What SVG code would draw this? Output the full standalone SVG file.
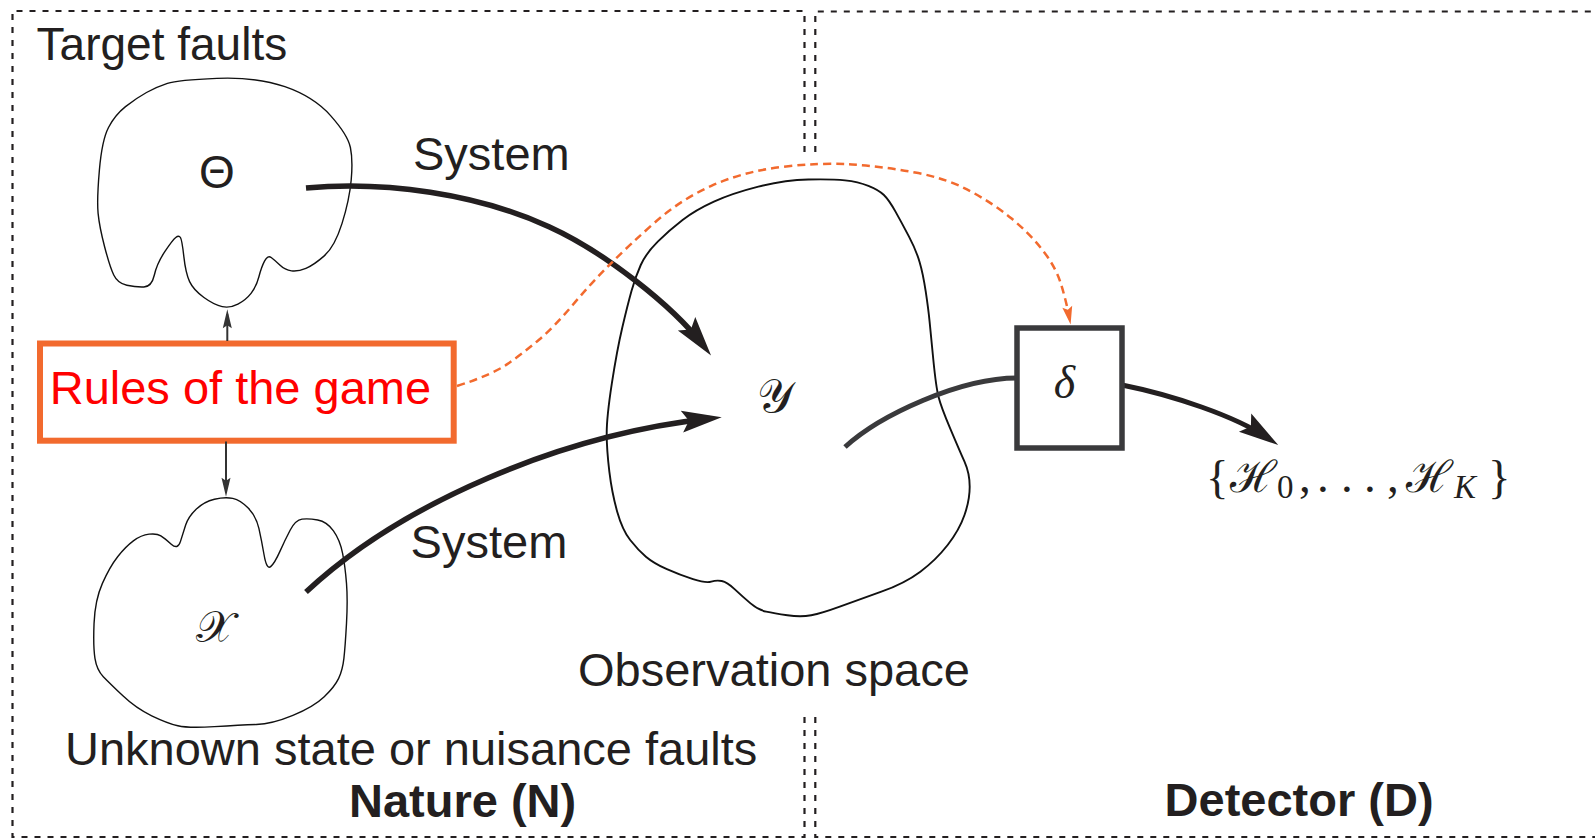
<svg xmlns="http://www.w3.org/2000/svg" width="1595" height="840" viewBox="0 0 1595 840">
<style>
.t{font-family:"Liberation Sans",Arial,sans-serif;font-size:47px;fill:#231f20}
.b{font-weight:bold}
.m{font-family:"Liberation Serif","DejaVu Serif",serif;fill:#231f20}
.blob{fill:none;stroke:#111;stroke-width:1.4;stroke-linejoin:round}
.region{fill:none;stroke:#231f20;stroke-width:2.2;stroke-dasharray:6 7}
.thick{fill:none;stroke:#231f20;stroke-width:5.5}
.thin{fill:none;stroke:#333;stroke-width:2}
</style>
<defs>
<marker id="ah" markerUnits="userSpaceOnUse" markerWidth="42" markerHeight="24" refX="28" refY="12" orient="auto" overflow="visible"><path d="M40 12 L0 1 L7 12 L0 23 Z" fill="#231f20"/></marker>
<marker id="sh" markerUnits="userSpaceOnUse" markerWidth="20" markerHeight="10" refX="14" refY="4.5" orient="auto" overflow="visible"><path d="M19 4.5 L0 0 L3 4.5 L0 9 Z" fill="#333"/></marker>
<marker id="oh" markerUnits="userSpaceOnUse" markerWidth="20" markerHeight="10" refX="12" refY="5" orient="auto" overflow="visible"><path d="M18 5 L0 0 L3 5 L0 10 Z" fill="#F26A2E"/></marker>
</defs>
<rect width="1595" height="840" fill="#fff"/>
<g id="nature-region">
<path class="region" d="M804.5 152 V11 H12.5 V837 H804.5 V717"/>
<text class="t b" x="349" y="817">Nature (N)</text>
</g>
<g id="detector-region">
<path class="region" d="M815.3 152 V11.5 H1600"/>
<path class="region" d="M815.3 717 V837 H1600"/>
<text class="t b" x="1164.6" y="816">Detector (D)</text>
</g>
<g id="target-faults">
<text class="t" x="36.6" y="60" style="font-size:46px">Target faults</text>
<path class="blob" d="M167.4 83.35 Q177.8 80 216.9 78.35 Q256 76.7 284.9 86.7 Q313.8 96.7 330.8 115.85 Q347.8 135 350.4 147.5 Q353 160 351.2 180 Q349.4 200 342.05 223.35 Q334.7 246.7 324.25 255.85 Q313.8 265 305.9 268.35 Q298 271.7 291.5 270.85 Q285 270 279.8 265 Q274.6 260 271.2 257.5 Q267.8 255 264.65 260.85 Q261.5 266.7 258.9 276.7 Q256.3 286.7 251.05 293.35 Q245.8 300 237.9 304.15 Q230 308.3 222.2 306.65 Q214.4 305 203.95 297.5 Q193.5 290 189.6 281.65 Q185.7 273.3 183.850 256.65 Q182 240 180.45 237.5 Q178.9 235 175.75 237.5 Q172.6 240 164.8 251.65 Q157 263.3 154.35 275 Q151.7 286.7 143.85 287 Q136 287.3 126.85 285.3 Q117.7 283.3 113.75 275 Q109.8 266.7 104.6 246.7 Q99.4 226.7 98.1 213.35 Q96.8 200 99.4 170 Q102 140 108.5 127.5 Q115 115 125.5 106.65 Q136 98.3 146.5 92.5 Q157 86.7 167.4 83.35 Z"/>
<text class="t" x="217" y="188" text-anchor="middle" style="font-size:46px">Θ</text>
</g>
<g id="unknown-state">
<path class="blob" d="M214.45 499.2 Q224.9 496.7 232.75 498.35 Q240.6 500 248.45 508.35 Q256.3 516.7 258.9 528.35 Q261.5 540 264.1 555 Q266.7 570 270.65 566.65 Q274.6 563.3 279.8 551.65 Q285 540 290.25 530 Q295.5 520 302.05 519.15 Q308.6 518.3 317.75 520 Q326.9 521.7 333.45 530.85 Q340 540 342.6 553.35 Q345.2 566.7 346.5 583.35 Q347.8 600 346.5 623.35 Q345.2 646.7 343.9 658.35 Q342.6 670 338.65 678.35 Q334.7 686.7 324.25 696.7 Q313.8 706.7 292.9 715.35 Q272 724 256.3 724.5 Q240.6 725 214.45 726.65 Q188.3 728.3 177.85 725.8 Q167.4 723.3 151.7 715.8 Q136 708.3 122.9 695.8 Q109.8 683.3 103.3 676.65 Q96.8 670 94.95 658.35 Q93.1 646.7 94.05 623.35 Q95 600 102.4 583.35 Q109.8 566.7 117.65 556.7 Q125.5 546.7 133.35 540.85 Q141.2 535 149.1 534.15 Q157 533.3 160.85 535.8 Q164.7 538.3 171.25 544.15 Q177.8 550 180.4 541.65 Q183 533.3 185.65 525 Q188.3 516.7 196.15 509.2 Q204 501.7 214.45 499.2 Z"/>
<text class="m" x="215" y="642" text-anchor="middle" style="font-size:44px">𝒳</text>
<text class="t" x="65" y="765">Unknown state or nuisance faults</text>
</g>
<g id="rules">
<rect x="40" y="343.5" width="413.7" height="97.2" fill="#fff" stroke="#F26A2E" stroke-width="6"/>
<text class="t" x="49.7" y="404" style="fill:#f00">Rules of the game</text>
</g>
<g id="observation">
<path class="blob" style="stroke-width:1.9" d="M631.55 290.85 Q635.5 276.7 640.75 265 Q646 253.3 657.75 241.65 Q669.5 230 682.55 220 Q695.6 210 713.9 201.65 Q732.2 193.3 758.35 186.65 Q784.5 180 808.25 179.5 Q832 179 845 180.35 Q858 181.7 868.4 185.85 Q878.8 190 883.9 195 Q889 200 895.5 211.65 Q902 223.3 909 236.65 Q916 250 919.5 261.65 Q923 273.3 925.75 291.65 Q928.5 310 929.6 321.65 Q930.7 333.3 933.35 360 Q936 386.7 938.5 396.7 Q941 406.7 950.15 428.35 Q959.3 450 964.5 461.65 Q969.7 473.3 969.7 486.65 Q969.7 500 964.5 515 Q959.3 530 947.65 545 Q936 560 920.35 571.65 Q904.7 583.3 881.35 591.65 Q858 600 839.8 606.65 Q821.6 613.3 811.2 615.3 Q800.8 617.3 787.4 615.3 Q774 613.3 766.2 611.65 Q758.4 610 750.55 603.35 Q742.7 596.7 734.85 589.35 Q727 582 721.75 581 Q716.5 580 711.25 581.65 Q706 583.3 693 579.15 Q680 575 666.9 569.15 Q653.8 563.3 645.9 556.65 Q638 550 630.2 540 Q622.4 530 617.2 511.65 Q612 493.3 609.35 471.65 Q606.7 450 606.7 433.35 Q606.7 416.7 611.85 383.35 Q617 350 622.3 327.5 Q627.6 305 631.55 290.85 Z"/>
<text class="m" x="775" y="412" text-anchor="middle" style="font-size:46px">𝒴</text>
<text class="t" x="578" y="686">Observation space</text>
</g>
<g id="connectors">
<path class="thick" marker-end="url(#ah)" d="M306 188 C386 181 476.2 193.6 549 226.7 C603.6 251.5 672 305 703.7 346"/>
<text class="t" x="413" y="170">System</text>
<path class="thick" marker-end="url(#ah)" d="M306 592 C400.9 503.6 560.7 434.8 709.8 418.6"/>
<text class="t" x="410.6" y="558">System</text>
<path class="thin" marker-end="url(#sh)" d="M227.3 341 V314.3"/>
<path class="thin" marker-end="url(#sh)" d="M226 441.5 V491.7"/>
<path fill="none" stroke="#F26A2E" stroke-width="2.5" stroke-dasharray="8 5" marker-end="url(#oh)" d="M457 386 Q491.6 375 507.3 364.15 Q523 353.3 538.7 340 Q554.4 326.7 572.7 305 Q591 283.3 609.3 265 Q627.6 246.7 653.8 223.35 Q680 200 711.35 185.85 Q742.7 171.7 781.35 167 Q820 162.3 852 164.5 Q884 166.7 915.15 172.5 Q946.3 178.3 969.65 190.8 Q993 203.3 1011.25 218.3 Q1029.5 233.3 1042.5 250 Q1055.5 266.7 1060.75 283.35 Q1066 300 1069.5 318.5"/>
<path fill="none" stroke="#3a3a3c" stroke-width="5" d="M845 447 C880 415 960 378 1017 378"/>
<path class="thick" style="stroke-width:5" marker-end="url(#ah)" d="M1122 385 C1172 395 1235.1 415.9 1268.3 438.3"/>
</g>
<g id="detector">
<rect x="1017" y="328" width="105" height="120" fill="#fff" stroke="#3a3a3c" stroke-width="5.5"/>
<text class="m" x="1064.5" y="398" text-anchor="middle" style="font-size:46px;font-style:italic">δ</text>
</g>
<g id="output">
<text class="m" style="font-size:47px"><tspan x="1206" y="493">{</tspan><tspan x="1230" y="492" style="font-size:44px">ℋ</tspan><tspan x="1277" y="498" style="font-size:33px">0</tspan><tspan x="1299" y="492">,</tspan><tspan x="1317" y="492">.</tspan><tspan x="1341" y="492">.</tspan><tspan x="1364" y="492">.</tspan><tspan x="1387" y="492">,</tspan><tspan x="1406" y="492" style="font-size:44px">ℋ</tspan><tspan x="1454" y="498" style="font-size:33px;font-style:italic">K</tspan><tspan x="1488" y="493">}</tspan></text>
</g>
</svg>
